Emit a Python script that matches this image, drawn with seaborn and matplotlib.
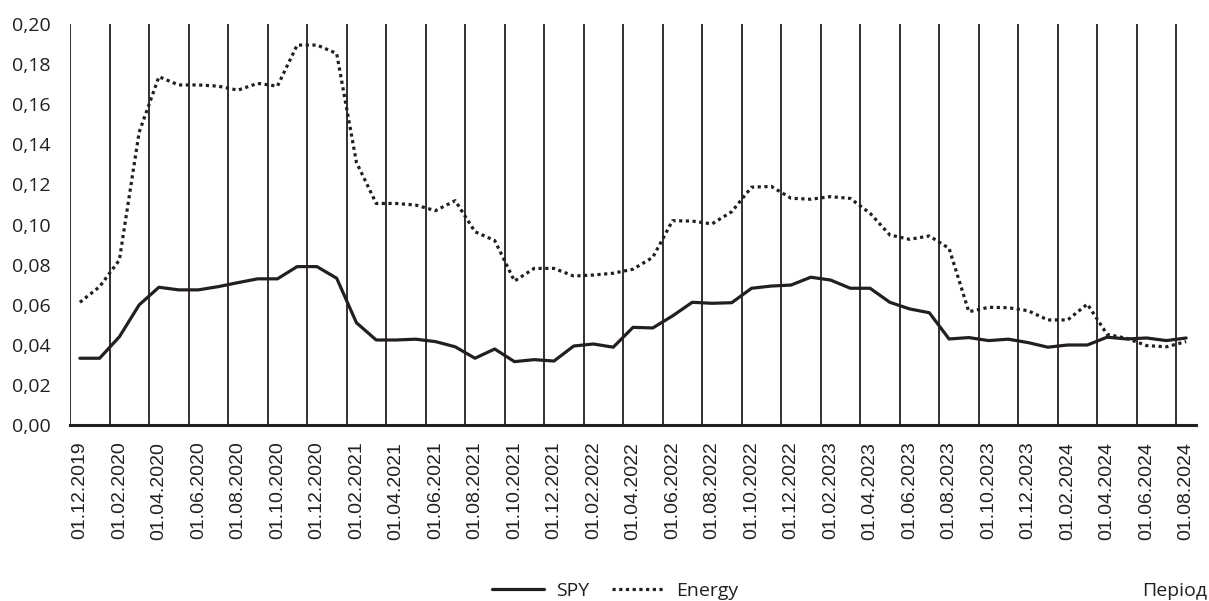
import numpy as np
import pandas as pd
import matplotlib
matplotlib.use("Agg")
import matplotlib.pyplot as plt
import matplotlib.transforms as mtransforms
import seaborn as sns

# ---- data ----
months = ["01.12.2019", "01.01.2020", "01.02.2020", "01.03.2020", "01.04.2020", "01.05.2020",
          "01.06.2020", "01.07.2020", "01.08.2020", "01.09.2020", "01.10.2020", "01.11.2020",
          "01.12.2020", "01.01.2021", "01.02.2021", "01.03.2021", "01.04.2021", "01.05.2021",
          "01.06.2021", "01.07.2021", "01.08.2021", "01.09.2021", "01.10.2021", "01.11.2021",
          "01.12.2021", "01.01.2022", "01.02.2022", "01.03.2022", "01.04.2022", "01.05.2022",
          "01.06.2022", "01.07.2022", "01.08.2022", "01.09.2022", "01.10.2022", "01.11.2022",
          "01.12.2022", "01.01.2023", "01.02.2023", "01.03.2023", "01.04.2023", "01.05.2023",
          "01.06.2023", "01.07.2023", "01.08.2023", "01.09.2023", "01.10.2023", "01.11.2023",
          "01.12.2023", "01.01.2024", "01.02.2024", "01.03.2024", "01.04.2024", "01.05.2024",
          "01.06.2024", "01.07.2024", "01.08.2024"]

spy = [0.0333, 0.0333, 0.0440, 0.0599, 0.0687, 0.0674, 0.0674, 0.0690, 0.0710, 0.0729,
       0.0729, 0.0790, 0.0790, 0.0732, 0.0510, 0.0424, 0.0424, 0.0428, 0.0416, 0.0390,
       0.0333, 0.0379, 0.0316, 0.0326, 0.0319, 0.0394, 0.0404, 0.0388, 0.0487, 0.0484,
       0.0544, 0.0612, 0.0607, 0.0610, 0.0682, 0.0693, 0.0698, 0.0737, 0.0723, 0.0682,
       0.0682, 0.0612, 0.0579, 0.0560, 0.0429, 0.0436, 0.0421, 0.0428, 0.0411, 0.0388,
       0.0399, 0.0399, 0.0438, 0.0429, 0.0434, 0.0421, 0.0434]

energy = [0.0612, 0.0690, 0.0823, 0.1460, 0.1737, 0.1696, 0.1696, 0.1690, 0.1670, 0.1704,
          0.1690, 0.1895, 0.1895, 0.1853, 0.1310, 0.1105, 0.1105, 0.1097, 0.1069, 0.1119,
          0.0964, 0.0920, 0.0718, 0.0781, 0.0781, 0.0743, 0.0748, 0.0757, 0.0777, 0.0836,
          0.1019, 0.1017, 0.1003, 0.1064, 0.1186, 0.1190, 0.1131, 0.1126, 0.1139, 0.1130,
          0.1056, 0.0948, 0.0926, 0.0943, 0.0881, 0.0565, 0.0587, 0.0585, 0.0570, 0.0524,
          0.0524, 0.0603, 0.0452, 0.0432, 0.0396, 0.0390, 0.0416]

series_names = ["SPY", "Energy"]
y_ticks = [0.00, 0.02, 0.04, 0.06, 0.08, 0.10, 0.12, 0.14, 0.16, 0.18, 0.20]
x_title = "Період"

# ---- build ----
sns.set_theme(style="white")
plt.rcParams["font.family"] = ["Open Sans", "DejaVu Sans"]

ink = "#231f20"
pos = np.arange(len(months))
df = pd.DataFrame({"pos": pos, "SPY": spy, "Energy": energy})

fig = plt.figure(figsize=(12.09, 6.01), dpi=100)
ax = fig.add_axes([70 / 1209, 1 - 425 / 601, (1196 - 70) / 1209, (425 - 24) / 601])

sns.lineplot(data=df, x="pos", y="SPY", ax=ax, color=ink, linewidth=2.3,
             label=series_names[0])
sns.lineplot(data=df, x="pos", y="Energy", ax=ax, color=ink, linewidth=2.3,
             label=series_names[1], dashes=False)
ax.lines[1].set_linestyle((0, (1.0, 1.1)))
ax.lines[1].set_dash_capstyle("butt")

ax.set_xlim(-0.5, len(months) - 0.5)
ax.set_ylim(0, 0.20)

# category boundaries every two months as vertical grid lines
ax.set_xticks(np.arange(-0.5, len(months) - 1, 2), minor=True)
ax.grid(which="minor", axis="x", color=ink, linewidth=1.3)
ax.grid(which="major", visible=False)
ax.set_axisbelow(True)

ax.set_xticks(pos[::2])
ax.set_xticklabels(months[::2], rotation=90, fontsize=14,
                   family=["Liberation Sans", "DejaVu Sans"], color=ink)
shift = mtransforms.ScaledTranslation(3 / 100, 0, fig.dpi_scale_trans)
for lbl in ax.get_xticklabels():
    lbl.set_transform(lbl.get_transform() + shift)
ax.set_yticks(y_ticks)
ax.set_yticklabels([f"{v:.2f}".replace(".", ",") for v in y_ticks], fontsize=14, color=ink)
ax.tick_params(axis="x", which="both", length=0, pad=12)
ax.tick_params(axis="y", length=0, pad=14)

for s in ["left", "right", "top"]:
    ax.spines[s].set_visible(False)
ax.spines["bottom"].set_color(ink)
ax.spines["bottom"].set_linewidth(2.2)

ax.set_xlabel("")
ax.set_ylabel("")

handles, labels = ax.get_legend_handles_labels()
ax.get_legend().remove()
fig.legend(handles, labels, loc="center", bbox_to_anchor=(615 / 1209, 1 - 591 / 601),
           ncol=2, frameon=False, fontsize=14, handlelength=2.7, columnspacing=1.2,
           handletextpad=0.6, labelcolor=ink)

fig.text(1207 / 1209, 1 - 591 / 601, x_title, ha="right", va="center", fontsize=14, color=ink)

fig.savefig("out.png", dpi=100)
